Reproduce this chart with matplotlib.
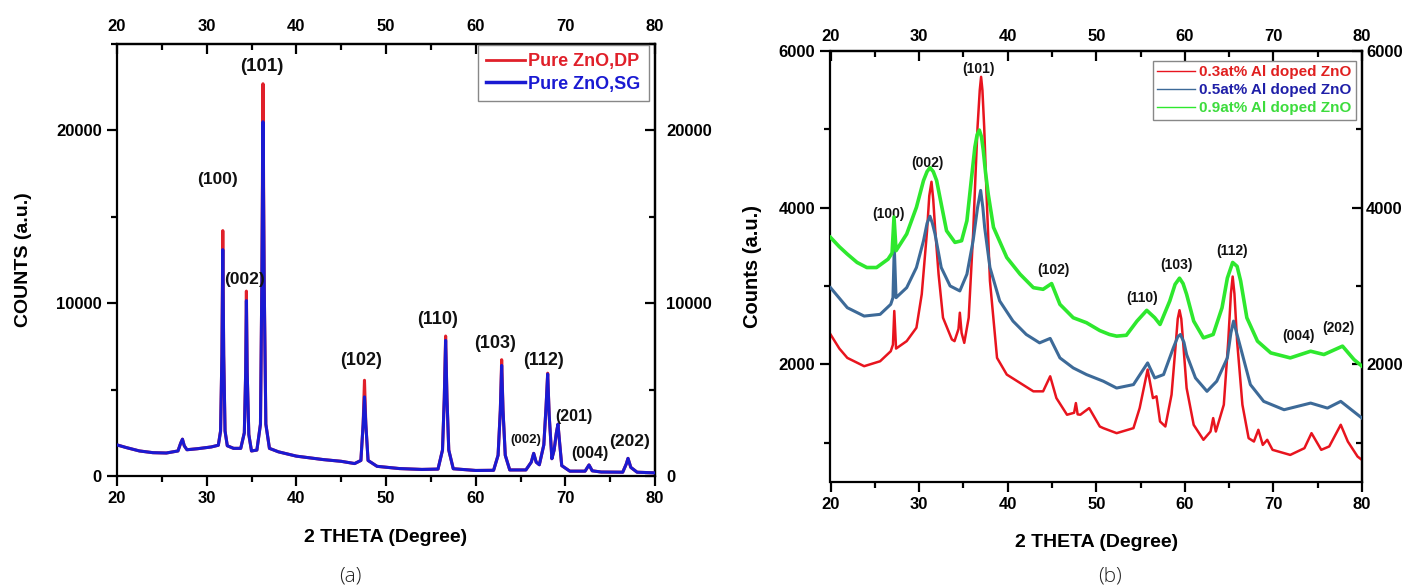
import matplotlib
matplotlib.use("Agg")
import matplotlib.pyplot as plt
from matplotlib.ticker import MultipleLocator
from matplotlib.lines import Line2D

plt.rcParams['font.family'] = ['Liberation Sans', 'DejaVu Sans']
plt.rcParams['font.weight'] = 'bold'
plt.rcParams['axes.labelweight'] = 'bold'

# ---------------- Panel (a) data ----------------
two_theta_a = [20.0, 21.0, 22.5, 24.0, 25.5, 26.8, 27.1, 27.3, 27.5, 27.8, 29.0, 30.5, 31.3,
               31.55, 31.7, 31.8, 31.9, 32.05, 32.3, 33.0, 33.8,
               34.2, 34.35, 34.43, 34.52, 34.7, 35.0, 35.6,
               36.0, 36.15, 36.28, 36.42, 36.6, 37.0, 38.0, 40.0, 43.0, 45.0, 46.5,
               47.2, 47.45, 47.6, 47.75, 48.0, 49.0, 51.5, 54.0, 55.8,
               56.3, 56.5, 56.65, 56.8, 57.0, 57.5, 60.0, 62.0,
               62.5, 62.75, 62.9, 63.05, 63.3, 63.8, 65.6,
               66.2, 66.47, 66.75, 67.1, 67.6, 67.85, 68.03, 68.2, 68.5,
               68.75, 69.0, 69.18, 69.35, 69.6, 70.5, 72.2, 72.64, 73.0, 74.0,
               76.4, 76.8, 76.99, 77.3, 78.0, 80.0]
counts_dp = [1800, 1650, 1450, 1350, 1330, 1450, 1900, 2130, 1750, 1520, 1580, 1680, 1780,
             2600, 7000, 14200, 7000, 2600, 1750, 1600, 1600,
             2500, 6000, 10700, 6000, 2400, 1450, 1500,
             3000, 11000, 22700, 11000, 3000, 1600, 1400, 1150, 950, 850, 720,
             900, 3000, 5540, 3000, 900, 560, 430, 380, 400,
             1500, 4500, 8100, 4500, 1500, 420, 320, 330,
             1200, 3800, 6730, 3800, 1200, 350, 350,
             800, 1310, 800, 650, 1800, 4000, 5950, 3500, 1000,
             1500, 2500, 3000, 2000, 600, 280, 280, 640, 300, 230,
             220, 700, 1020, 500, 220, 180]
counts_sg = [1800, 1650, 1450, 1350, 1330, 1450, 1900, 2130, 1750, 1520, 1580, 1680, 1780,
             2600, 7000, 13100, 7000, 2600, 1750, 1600, 1600,
             2500, 6000, 10150, 6000, 2400, 1450, 1500,
             3000, 11000, 20500, 11000, 3000, 1600, 1400, 1150, 950, 850, 720,
             900, 3000, 4580, 3000, 900, 560, 430, 380, 400,
             1500, 4500, 7850, 4500, 1500, 420, 320, 330,
             1200, 3800, 6400, 3800, 1200, 350, 350,
             800, 1310, 800, 650, 1800, 4000, 5900, 3500, 1000,
             1500, 2500, 3000, 2000, 600, 280, 280, 640, 300, 230,
             220, 700, 1020, 500, 220, 180]
labels_a = ['(101)', '(100)', '(002)', '(102)', '(110)', '(103)', '(112)', '(002)', '(201)', '(004)', '(202)']
label_x_a = [36.1, 31.2, 34.24, 47.25, 55.72, 62.15, 67.58, 65.58, 71.0, 72.7, 77.2]
label_y_a = [23715, 17180, 11400, 6690, 9040, 7690, 6690, 2077, 3420, 1310, 1980]
label_size_a = [13.5, 12.5, 12.5, 13, 13, 13, 13, 9.5, 11.5, 11.5, 12.5]

# ---------------- Panel (b) data ----------------
two_theta_03 = [20.0, 21.0, 21.9, 23.8, 25.6, 26.8, 27.05, 27.2, 27.4, 28.6, 29.7, 30.3, 30.9,
                31.15, 31.4, 31.6, 31.8, 32.2, 32.7, 33.7, 34.0, 34.45, 34.6, 34.8, 35.1, 35.6,
                36.1, 36.4, 36.6, 36.85, 37.0, 37.15, 37.35, 37.6, 38.0, 38.8, 39.9, 41.4,
                42.9, 44.0, 44.8, 45.5, 46.7, 47.5, 47.7, 47.9, 48.2, 49.2, 50.4, 50.8,
                52.3, 54.2, 54.9, 55.8, 56.4, 56.8, 57.2, 57.8, 58.5, 59.0, 59.2, 59.4,
                59.6, 59.8, 60.2, 61.0, 62.1, 62.9, 63.2, 63.5, 64.4, 64.9, 65.2, 65.4,
                65.6, 65.9, 66.5, 67.2, 67.8, 68.3, 68.8, 69.3, 69.9, 71.9, 73.5, 74.3,
                75.4, 76.3, 77.6, 78.4, 79.5, 80.0]
counts_03 = [2381, 2200, 2081, 1975, 2038, 2166, 2250, 2680, 2200, 2295, 2466, 2894, 3705,
             4150, 4330, 4100, 3748, 3150, 2594, 2317, 2295, 2450, 2658, 2400, 2273, 2594,
             3663, 4500, 5030, 5500, 5670, 5500, 5030, 4218, 3064, 2081, 1868, 1761,
             1654, 1654, 1846, 1568, 1355, 1380, 1504, 1360, 1355, 1440, 1205, 1184,
             1120, 1184, 1440, 1932, 1568, 1590, 1269, 1205, 1611, 2295, 2580, 2690,
             2580, 2295, 1696, 1226, 1035, 1141, 1312, 1141, 1483, 2295, 2900, 3120,
             2900, 2295, 1483, 1056, 1013, 1163, 970, 1035, 907, 842, 928, 1120,
             907, 950, 1227, 1013, 821, 778]

two_theta_05 = [20.0, 21.9, 23.8, 25.6, 26.8, 27.05, 27.2, 27.4, 28.6, 29.7, 30.5, 30.9,
                31.23, 31.5, 31.8, 32.5, 33.5, 34.6, 35.4, 36.1, 36.6, 36.95, 37.2, 37.4,
                38.0, 39.1, 40.6, 42.1, 43.6, 44.8, 45.9, 47.4, 48.9, 50.8, 52.3, 54.2,
                55.8, 56.6, 57.6, 58.7, 59.2, 59.5, 59.9, 60.2, 61.2, 62.5, 63.6, 64.8,
                65.2, 65.5, 65.8, 66.3, 67.4, 68.9, 71.2, 74.2, 76.1, 77.6, 80.0]
counts_05 = [2978, 2722, 2615, 2637, 2765, 2850, 3500, 2850, 2978, 3235, 3577, 3800,
             3890, 3800, 3663, 3235, 3000, 2936, 3150, 3577, 4000, 4220, 4000, 3748,
             3235, 2808, 2551, 2380, 2273, 2330, 2081, 1953, 1868, 1783, 1696, 1740,
             2017, 1825, 1868, 2209, 2350, 2380, 2280, 2124, 1825, 1654, 1783, 2081,
             2400, 2551, 2420, 2209, 1740, 1526, 1419, 1504, 1440, 1526, 1312]

two_theta_09 = [20.0, 21.0, 21.9, 23.0, 24.1, 25.2, 26.5, 26.95, 27.17, 27.4, 28.6, 29.7,
                30.5, 30.9, 31.23, 31.6, 31.98, 32.5, 33.1, 34.05, 34.8, 35.4, 35.93, 36.3,
                36.55, 36.8, 37.05, 37.25, 37.5, 37.8, 38.4, 39.9, 41.4, 42.9, 44.0, 44.96,
                45.9, 47.4, 48.9, 50.4, 51.5, 52.3, 53.4, 54.6, 55.7, 56.6, 57.2, 58.3,
                58.9, 59.4, 59.8, 60.2, 61.0, 62.1, 63.2, 64.2, 64.8, 65.4, 65.9, 66.3,
                67.0, 68.2, 69.7, 71.9, 74.2, 75.7, 77.8, 79.1, 80.0]
counts_09 = [3620, 3500, 3406, 3300, 3235, 3235, 3342, 3420, 3880, 3450, 3663, 4004,
             4346, 4460, 4510, 4460, 4346, 4047, 3705, 3556, 3577, 3833, 4389, 4773,
             4930, 4990, 4900, 4730, 4450, 4176, 3748, 3363, 3150, 2978, 2957, 3030,
             2765, 2594, 2530, 2430, 2380, 2359, 2370, 2551, 2688, 2594, 2508, 2808,
             3020, 3099, 3030, 2893, 2551, 2337, 2380, 2722, 3100, 3300, 3250, 3064,
             2594, 2295, 2145, 2081, 2166, 2124, 2231, 2059, 1975]

labels_b = ['(100)', '(002)', '(101)', '(102)', '(110)', '(103)', '(112)', '(004)', '(202)']
label_x_b = [26.6, 30.93, 36.7, 45.15, 55.2, 59.07, 65.28, 72.88, 77.3]
label_y_b = [3920, 4568, 5765, 3200, 2842, 3270, 3440, 2359, 2457]

series_names_a = ['Pure ZnO,DP', 'Pure ZnO,SG']
series_names_b = ['0.3at% Al doped ZnO', '0.5at% Al doped ZnO', '0.9at% Al doped ZnO']

# ---------------- Styling ----------------
RED_A, BLUE_A = '#e0202a', '#1a1ad2'
RED_B, BLUE_B, GREEN_B = '#e8141e', '#3d6a98', '#2ee82e'
TXT_B = ['#e02020', '#1f1fa8', '#3ddc3d']

W, H = 1409, 586
fig = plt.figure(figsize=(W / 100, H / 100), dpi=100)
ax1 = fig.add_axes([117 / W, 1 - 476 / H, 538 / W, 432 / H])
ax2 = fig.add_axes([830.5 / W, 1 - 481.7 / H, 531.5 / W, 430.7 / H])


def style_axes(ax, ylim, ymaj, ymin, labelsize, top_pad, right_pad):
    ax.set_xlim(20, 80)
    ax.set_ylim(*ylim)
    for sp in ax.spines.values():
        sp.set_linewidth(1.6)
    ax.xaxis.set_major_locator(MultipleLocator(10))
    ax.xaxis.set_minor_locator(MultipleLocator(5))
    ax.yaxis.set_major_locator(MultipleLocator(ymaj))
    ax.yaxis.set_minor_locator(MultipleLocator(ymin))
    ax.tick_params(which='major', direction='out', length=7, width=1.6,
                   labelsize=labelsize, pad=4)
    ax.tick_params(which='minor', direction='out', length=4, width=1.6)
    secx = ax.secondary_xaxis('top')
    secx.xaxis.set_major_locator(MultipleLocator(10))
    secx.xaxis.set_minor_locator(MultipleLocator(5))
    secx.tick_params(which='major', direction='in', length=7, width=1.6,
                     labelsize=labelsize, pad=top_pad)
    secx.tick_params(which='minor', direction='in', length=4, width=1.6)
    secx.spines['top'].set_linewidth(1.6)
    secx.xaxis.label.set_visible(False)
    secx.xaxis.offsetText.set_visible(False)
    secy = ax.secondary_yaxis('right')
    secy.yaxis.set_major_locator(MultipleLocator(ymaj))
    secy.yaxis.set_minor_locator(MultipleLocator(ymin))
    secy.tick_params(which='major', direction='in', length=7, width=1.6,
                     labelsize=labelsize, pad=right_pad)
    secy.tick_params(which='minor', direction='in', length=4, width=1.6)
    secy.spines['right'].set_linewidth(1.6)
    secy.yaxis.label.set_visible(False)
    secy.yaxis.offsetText.set_visible(False)
    return secx, secy


# ---------------- Panel (a) ----------------
ax1.plot(two_theta_a, counts_dp, color=RED_A, lw=2.2, zorder=2)
ax1.plot(two_theta_a, counts_sg, color=BLUE_A, lw=2.2, zorder=3)
style_axes(ax1, (0, 25000), 10000, 5000, 12, 7, 8)
ax1.set_xlabel('2 THETA (Degree)', fontsize=14, labelpad=16)
ax1.set_ylabel('COUNTS (a.u.)', fontsize=14, labelpad=17)
for t, x, y, s in zip(labels_a, label_x_a, label_y_a, label_size_a):
    ax1.text(x, y, t, ha='center', va='center', fontsize=s, color='#111111')
h_a = [Line2D([], [], color=RED_A, lw=2), Line2D([], [], color=BLUE_A, lw=2.5)]
leg_a = ax1.legend(h_a, series_names_a, loc='upper right', bbox_to_anchor=(0.988, 0.998),
                   borderaxespad=0, fontsize=13, handlelength=2.2, handletextpad=0.15,
                   labelspacing=0.32, borderpad=0.45, fancybox=False, framealpha=1,
                   edgecolor='#888888')
leg_a.get_frame().set_linewidth(1.0)
for txt, c in zip(leg_a.get_texts(), [RED_A, BLUE_A]):
    txt.set_color(c)

# ---------------- Panel (b) ----------------
ax2.plot(two_theta_03, counts_03, color=RED_B, lw=1.8, zorder=2)
ax2.plot(two_theta_05, counts_05, color=BLUE_B, lw=2.2, zorder=3)
ax2.plot(two_theta_09, counts_09, color=GREEN_B, lw=2.6, zorder=4)
style_axes(ax2, (500, 6000), 2000, 1000, 12, 5, 3)
ax2.set_xlabel('2 THETA (Degree)', fontsize=14, labelpad=16)
ax2.set_ylabel('Counts (a.u.)', fontsize=14.5, labelpad=12)
for t, x, y in zip(labels_b, label_x_b, label_y_b):
    ax2.text(x, y, t, ha='center', va='center', fontsize=10, color='#111111')
h_b = [Line2D([], [], color=c, lw=1) for c in (RED_B, BLUE_B, GREEN_B)]
leg_b = ax2.legend(h_b, series_names_b, loc='upper right', bbox_to_anchor=(0.989, 0.977),
                   borderaxespad=0, fontsize=11, handlelength=2.5, handletextpad=0.25,
                   labelspacing=0.25, borderpad=0.3, fancybox=False, framealpha=1,
                   edgecolor='#888888')
leg_b.get_frame().set_linewidth(1.0)
for txt, c in zip(leg_b.get_texts(), TXT_B):
    txt.set_color(c)

# panel captions
fig.text(350 / W, 1 - 577 / H, '(a)', ha='center', va='center', fontsize=15,
         fontweight='light', family=['Open Sans', 'DejaVu Sans'], color='#222222')
fig.text(1110 / W, 1 - 577 / H, '(b)', ha='center', va='center', fontsize=15,
         fontweight='light', family=['Open Sans', 'DejaVu Sans'], color='#222222')

fig.savefig('out.png', dpi=100)
